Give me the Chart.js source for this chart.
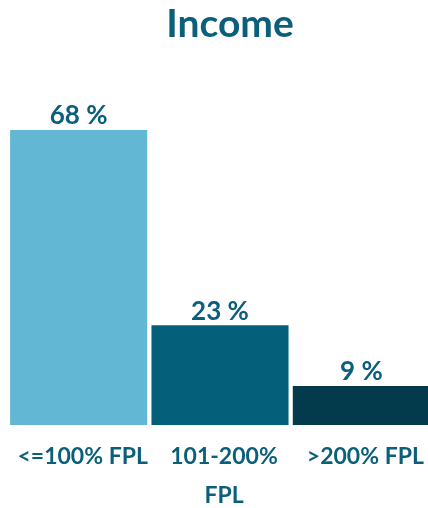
<!DOCTYPE html>
<html>
<head>
<meta charset="utf-8">
<script src="https://cdn.jsdelivr.net/npm/chart.js@4/dist/chart.umd.min.js"></script>
<style>
  body { margin: 0; background: #fff; overflow: hidden; }
  #wrap { width: 428px; height: 508px; overflow: hidden; }
</style>
</head>
<body>
<div id="wrap"><canvas id="incomeChart" width="432" height="508"></canvas></div>
<script>
// Daten
const categories = [['<=100% FPL'], ['101-200%', 'FPL'], ['>200% FPL']];
const shares = [68, 23, 9];
const barColors = ['#62b7d5', '#04607a', '#033a4c'];
const textColor = '#0b5f7a';
const titleText = 'Income';

// Titel + Prozentwerte über den Balken
const valueLabels = {
  id: 'valueLabels',
  afterDatasetsDraw(chart) {
    const ctx = chart.ctx;
    const meta = chart.getDatasetMeta(0);
    ctx.save();
    ctx.fillStyle = textColor;
    ctx.textAlign = 'center';
    ctx.textBaseline = 'middle';
    ctx.font = 'bold 39px Lato';
    ctx.fillText(titleText, 230, 24);
    ctx.font = 'bold 26px Lato';
    ctx.textBaseline = 'bottom';
    meta.data.forEach((bar, i) => {
      ctx.fillText(shares[i] + ' %', bar.x, bar.y - 1);
    });
    ctx.restore();
  }
};

const ctx = document.getElementById('incomeChart').getContext('2d');
new Chart(ctx, {
  type: 'bar',
  data: {
    labels: categories,
    datasets: [{
      data: shares,
      backgroundColor: barColors,
      borderWidth: 0,
      barPercentage: 0.97,
      categoryPercentage: 1
    }]
  },
  options: {
    responsive: false,
    animation: false,
    layout: { padding: { left: 8, right: 0, top: 78, bottom: 0 } },
    plugins: {
      legend: { display: false },
      tooltip: { enabled: false },
      title: { display: false }
    },
    scales: {
      x: {
        grid: { display: false },
        border: { display: false },
        afterFit(scale) { scale.height = 83; },
        ticks: {
          color: textColor,
          font: { family: 'Lato', size: 23, weight: 'bold', lineHeight: 1.7 },
          maxRotation: 0,
          autoSkip: false,
          labelOffset: 4,
          padding: 4
        }
      },
      y: {
        display: false,
        min: 0,
        max: 80
      }
    }
  },
  plugins: [valueLabels]
});
</script>
</body>
</html>
